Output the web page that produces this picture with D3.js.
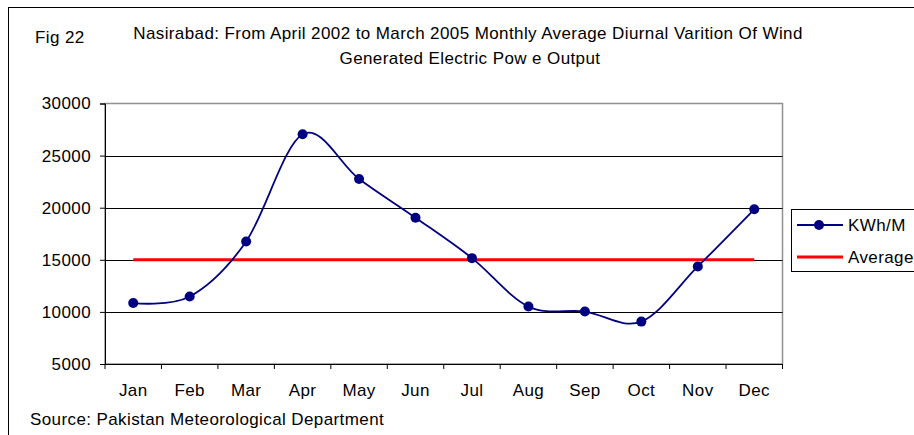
<!DOCTYPE html>
<html>
<head>
<meta charset="utf-8">
<script src="https://cdn.jsdelivr.net/npm/d3@7"></script>
<style>
  html, body { margin: 0; padding: 0; background: #fff; }
  svg { display: block; font-family: "Liberation Sans", Arial, sans-serif; }
  text { letter-spacing: 0.4px; }
</style>
</head>
<body>
<svg id="chart" width="914" height="435"></svg>
<script>
const months = ["Jan","Feb","Mar","Apr","May","Jun","Jul","Aug","Sep","Oct","Nov","Dec"];
const kwhValues = [10850, 11470, 16760, 27050, 22760, 19040, 15160, 10510, 10030, 9070, 14360, 19850];
const averageValues = [15000, 15000, 15000, 15000, 15000, 15000, 15000, 15000, 15000, 15000, 15000, 15000];
const yTicks = [5000, 10000, 15000, 20000, 25000, 30000];
const seriesNames = ["KWh/M", "Average"];
const titleLines = ["Nasirabad: From April 2002 to March 2005 Monthly Average Diurnal Varition Of Wind", "Generated Electric Pow e Output"];
const figLabel = "Fig 22";
const sourceText = "Source: Pakistan Meteorological Department";

const svg = d3.select("#chart");
const plot = { left: 105, right: 782.5, top: 103.5, bottom: 364 };
const fs = 17;

// outer chart border
svg.append("rect").attr("x", 8.5).attr("y", 7.5).attr("width", 1000).attr("height", 1000)
  .attr("fill", "#fff").attr("stroke", "#000").attr("stroke-width", 1);

const x = d3.scaleBand().domain(months).range([plot.left, plot.right]).padding(0);
const y = d3.scaleLinear().domain([5000, 30000]).range([plot.bottom, plot.top]);
const cx = d => x(d) + x.bandwidth() / 2;

// plot area border (gray)
svg.append("rect").attr("x", plot.left).attr("y", plot.top)
  .attr("width", plot.right - plot.left).attr("height", plot.bottom - plot.top)
  .attr("fill", "none").attr("stroke", "#909090").attr("stroke-width", 1.5);

// gridlines
svg.append("g").selectAll("line").data(yTicks.filter(t => t > 5000 && t < 30000)).join("line")
  .attr("x1", plot.left).attr("x2", plot.right)
  .attr("y1", d => Math.round(y(d)) + 0.5).attr("y2", d => Math.round(y(d)) + 0.5)
  .attr("stroke", "#000").attr("stroke-width", 1);

// y axis
const yAxis = d3.axisLeft(y).tickValues(yTicks).tickSize(5).tickPadding(9).tickFormat(d3.format("d"));
const gy = svg.append("g").attr("transform", `translate(${plot.left},0)`).call(yAxis);
gy.select(".domain").attr("stroke", "#000");
gy.selectAll(".tick line").attr("stroke", "#000");
gy.selectAll(".tick text").attr("font-size", fs).attr("fill", "#000").attr("font-family", "Liberation Sans, Arial, sans-serif");

// x axis
const xAxis = d3.axisBottom(x).tickSize(0).tickPadding(20);
const gx = svg.append("g").attr("transform", `translate(0,${plot.bottom})`).call(xAxis);
gx.select(".domain").attr("stroke", "#000");
gx.selectAll(".tick text").attr("font-size", fs).attr("fill", "#000").attr("font-family", "Liberation Sans, Arial, sans-serif");
// category boundary ticks
svg.append("g").selectAll("line").data(months.concat(["_end"])).join("line")
  .attr("x1", (d, i) => plot.left + i * x.bandwidth())
  .attr("x2", (d, i) => plot.left + i * x.bandwidth())
  .attr("y1", plot.bottom).attr("y2", plot.bottom + 5)
  .attr("stroke", "#000");

// average line
const avgLine = d3.line().x((d, i) => cx(months[i])).y(d => y(d));
svg.append("path").datum(averageValues).attr("d", avgLine)
  .attr("fill", "none").attr("stroke", "#ff0000").attr("stroke-width", 3);

// KWh line (smoothed)
const kLine = d3.line().x((d, i) => cx(months[i])).y(d => y(d)).curve(d3.curveCardinal.tension(0));
svg.append("path").datum(kwhValues).attr("d", kLine)
  .attr("fill", "none").attr("stroke", "#000080").attr("stroke-width", 1.8);
svg.append("g").selectAll("circle").data(kwhValues).join("circle")
  .attr("cx", (d, i) => cx(months[i])).attr("cy", d => y(d)).attr("r", 5)
  .attr("fill", "#000080");

// titles
svg.append("text").attr("x", 35).attr("y", 42.5).attr("font-size", fs).text(figLabel);
svg.append("text").attr("x", 468).attr("y", 38.5).attr("text-anchor", "middle").attr("font-size", fs).text(titleLines[0]);
svg.append("text").attr("x", 470).attr("y", 63.5).attr("text-anchor", "middle").attr("font-size", fs).text(titleLines[1]);

// source
svg.append("text").attr("x", 30).attr("y", 425).attr("font-size", fs).text(sourceText);

// legend
const lg = svg.append("g");
lg.append("rect").attr("x", 791.5).attr("y", 209.5).attr("width", 200).attr("height", 62)
  .attr("fill", "#fff").attr("stroke", "#000").attr("stroke-width", 1);
lg.append("line").attr("x1", 797).attr("x2", 843).attr("y1", 225).attr("y2", 225)
  .attr("stroke", "#000080").attr("stroke-width", 1.8);
lg.append("circle").attr("cx", 819).attr("cy", 225).attr("r", 5).attr("fill", "#000080");
lg.append("text").attr("x", 848).attr("y", 231).attr("font-size", fs).text(seriesNames[0]);
lg.append("line").attr("x1", 797).attr("x2", 843).attr("y1", 257).attr("y2", 257)
  .attr("stroke", "#ff0000").attr("stroke-width", 3);
lg.append("text").attr("x", 848).attr("y", 263).attr("font-size", fs).text(seriesNames[1]);
</script>
</body>
</html>
